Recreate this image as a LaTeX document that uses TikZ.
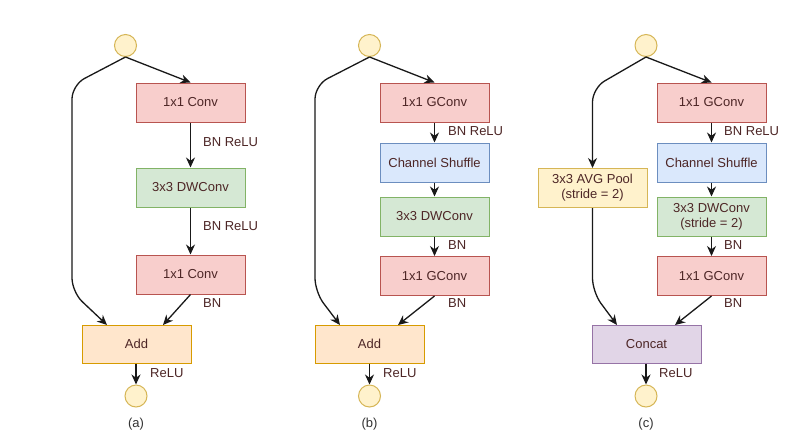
\documentclass[tikz,border=0pt]{standalone}
\usepackage{fontspec}
\setmainfont{Liberation Sans}
\usetikzlibrary{arrows.meta,calc}
\definecolor{txt}{HTML}{4D2626}
\definecolor{redf}{HTML}{F8CECC}\definecolor{redd}{HTML}{B85450}
\definecolor{grnf}{HTML}{D5E8D4}\definecolor{grnd}{HTML}{82B366}
\definecolor{bluf}{HTML}{DAE8FC}\definecolor{blud}{HTML}{6C8EBF}
\definecolor{orgf}{HTML}{FFE6CC}\definecolor{orgd}{HTML}{D79B00}
\definecolor{ylwf}{HTML}{FFF2CC}\definecolor{ylwd}{HTML}{D6B656}
\definecolor{purf}{HTML}{E1D5E7}\definecolor{purd}{HTML}{9673A6}
\tikzset{
  box/.style={rectangle, minimum width=109pt, minimum height=39pt, inner sep=0pt, line width=1pt, text=txt, align=center, font=\fontsize{13}{15}\selectfont},
  redbox/.style={box, fill=redf, draw=redd},
  grnbox/.style={box, fill=grnf, draw=grnd},
  blubox/.style={box, fill=bluf, draw=blud},
  orgbox/.style={box, fill=orgf, draw=orgd, minimum height=38pt},
  ylwbox/.style={box, fill=ylwf, draw=ylwd},
  purbox/.style={box, fill=purf, draw=purd, minimum height=38pt},
  io/.style={circle, minimum size=22pt, inner sep=0pt, fill=ylwf, draw=ylwd, line width=1pt},
  lbl/.style={anchor=west, inner sep=0pt, text=txt, font=\fontsize{13}{15}\selectfont},
  panelcap/.style={inner sep=0pt, text=black!80, font=\fontsize{13}{15}\selectfont},
  conn/.style={line width=1.3pt, black!90, -{Stealth[length=10pt,width=9pt]}},
}
\begin{document}
\begin{tikzpicture}[x=1pt,y=-1pt]
\path[use as bounding box, fill=white] (0,0) rectangle (810,445);
% ---------- panel (a)
\node[io] (ta) at (125.5,45.5) {};
\node[redbox] (a1) at (190.5,102.5) {1x1 Conv};
\node[grnbox] (a2) at (190.5,187.5) {3x3 DWConv};
\node[redbox] (a3) at (190.5,274.5) {1x1 Conv};
\node[orgbox] (aadd) at (136.5,344) {Add};
\node[io] (ba) at (136,396) {};
\node[panelcap] (capa) at (136,424) {(a)};
\coordinate (ak1) at (72,85);
\coordinate (ak2) at (72,292);
\coordinate (ain1) at (107,325);
\coordinate (ain2) at (163,325);
\draw[conn] (ta.south) -- (a1.north);
\draw[conn, rounded corners=14pt] (ta.south) -- (ak1) -- (ak2) -- (ain1);
\draw[conn] (a1) -- (a2);
\draw[conn] (a2) -- (a3);
\draw[conn] (a3.south) -- (ain2);
\draw[conn] (aadd.south -| ba) -- (ba);
\node[lbl] (la1) at (203,142) {BN ReLU};
\node[lbl] (la2) at (203,226) {BN ReLU};
\node[lbl] (la3) at (203,303) {BN};
\node[lbl] (la4) at (150,373) {ReLU};
% ---------- panel (b)
\node[io] (tb) at (369.5,45.5) {};
\node[redbox] (b1) at (434.5,102.5) {1x1 GConv};
\node[blubox] (b2) at (434.5,162.5) {Channel Shuffle};
\node[grnbox] (b3) at (434.5,216.5) {3x3 DWConv};
\node[redbox] (b4) at (434.5,276) {1x1 GConv};
\node[orgbox] (badd) at (369.5,344) {Add};
\node[io] (bb) at (369.5,396) {};
\node[panelcap] (capb) at (369.5,424) {(b)};
\coordinate (bk1) at (315,85);
\coordinate (bk2) at (315,292);
\coordinate (bin1) at (340,325);
\coordinate (bin2) at (398,325);
\draw[conn] (tb.south) -- (b1.north);
\draw[conn, rounded corners=14pt] (tb.south) -- (bk1) -- (bk2) -- (bin1);
\draw[conn] (b1) -- (b2);
\draw[conn] (b2) -- (b3);
\draw[conn] (b3) -- (b4);
\draw[conn] (b4.south) -- (bin2);
\draw[conn] (badd) -- (bb);
\node[lbl] (lb1) at (448,131) {BN ReLU};
\node[lbl] (lb2) at (448,245) {BN};
\node[lbl] (lb3) at (448,303) {BN};
\node[lbl] (lb4) at (383,373) {ReLU};
% ---------- panel (c)
\node[io] (tc) at (646,45.5) {};
\node[redbox] (c1) at (711.5,102.5) {1x1 GConv};
\node[blubox] (c2) at (711.5,162.5) {Channel Shuffle};
\node[grnbox] (c3) at (711.5,216.5) {3x3 DWConv\\(stride = 2)};
\node[redbox] (c4) at (711.5,276) {1x1 GConv};
\node[ylwbox] (cp) at (592.5,188) {3x3 AVG Pool\\(stride = 2)};
\node[purbox] (ccat) at (646.5,344) {Concat};
\node[io] (bc) at (646,396) {};
\node[panelcap] (capc) at (646,424) {(c)};
\coordinate (ck1) at (592.5,88);
\coordinate (ck2) at (592.5,292);
\coordinate (cin1) at (617,325);
\coordinate (cin2) at (675,325);
\draw[conn] (tc.south) -- (c1.north);
\draw[conn, rounded corners=14pt] (tc.south) -- (ck1) -- (cp.north);
\draw[conn, rounded corners=14pt] (cp.south) -- (ck2) -- (cin1);
\draw[conn] (c1) -- (c2);
\draw[conn] (c2) -- (c3);
\draw[conn] (c3) -- (c4);
\draw[conn] (c4.south) -- (cin2);
\draw[conn] (ccat.south -| bc) -- (bc);
\node[lbl] (lc1) at (724,131) {BN ReLU};
\node[lbl] (lc2) at (724,245) {BN};
\node[lbl] (lc3) at (724,303) {BN};
\node[lbl] (lc4) at (659,373) {ReLU};
\end{tikzpicture}
\end{document}
